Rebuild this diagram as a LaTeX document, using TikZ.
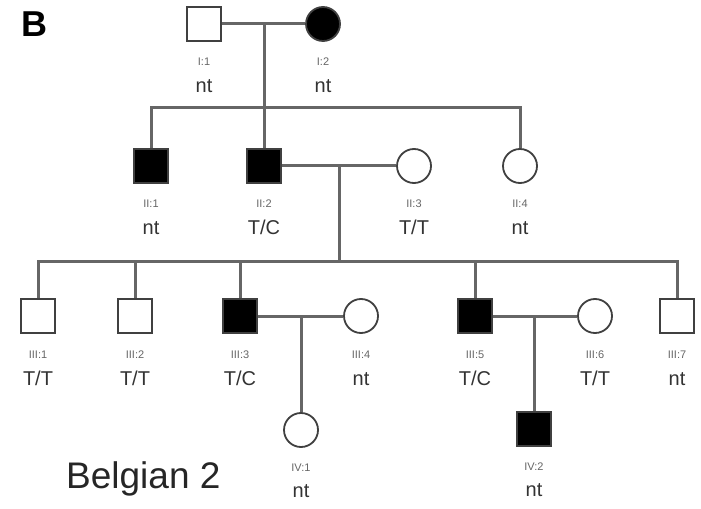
\documentclass[tikz,border=0pt]{standalone}
\usepackage{fontspec}
\setmainfont{Liberation Sans}
\begin{document}
\begin{tikzpicture}[x=1bp,y=-1bp,
  male/.style={rectangle, draw=black!75, line width=1.8bp, minimum size=34bp, inner sep=0pt, fill=white},
  female/.style={circle, draw=black!75, line width=1.8bp, minimum size=34bp, inner sep=0pt, fill=white},
  aff/.style={fill=black},
  link/.style={draw=black!60, line width=3bp},
  idlab/.style={anchor=base, inner sep=0pt, text=black!60, font=\fontsize{11bp}{13bp}\selectfont},
  gtlab/.style={anchor=base, inner sep=0pt, text=black!80, font=\fontsize{20bp}{24bp}\selectfont},
]
\useasboundingbox (0,0) rectangle (701,509);
\fill[white] (0,0) rectangle (701,509);

% Generation I
\node[male] (I1) at (204,24) {};
\node[female,aff] (I2) at (323,24) {};
% Generation II
\node[male,aff] (II1) at (151,166) {};
\node[male,aff] (II2) at (264,166) {};
\node[female] (II3) at (414,166) {};
\node[female] (II4) at (520,166) {};
% Generation III
\node[male] (III1) at (38,316) {};
\node[male] (III2) at (135,316) {};
\node[male,aff] (III3) at (240,316) {};
\node[female] (III4) at (361,316) {};
\node[male,aff] (III5) at (475,316) {};
\node[female] (III6) at (595,316) {};
\node[male] (III7) at (677,316) {};
% Generation IV
\node[female] (IV1) at (301,430) {};
\node[male,aff] (IV2) at (534,429) {};

% helper coordinates
\coordinate (m1) at (264,24);
\coordinate (s1) at (264,108);
\coordinate (m2) at (339,166);
\coordinate (s2) at (339,261);
\coordinate (m3) at (301,316);
\coordinate (m4) at (534,316);

% connectors
\draw[link] (I1) -- (I2);
\draw[link] (m1) -- (II2);
\draw[link] (II1) |- (s1) -| (II4);
\draw[link] (II2) -- (II3);
\draw[link] (m2) -- (s2);
\draw[link] (III1) |- (s2) -| (III7);
\draw[link] (III2 |- s2) -- (III2);
\draw[link] (III3 |- s2) -- (III3);
\draw[link] (III5 |- s2) -- (III5);
\draw[link] (III3) -- (III4);
\draw[link] (III5) -- (III6);
\draw[link] (m3) -- (IV1);
\draw[link] (m4) -- (IV2);

% labels
\node[idlab] (I1i) at (204,66) {I:1};
\node[gtlab] (I1g) at (204,93) {nt};
\node[idlab] (I2i) at (323,66) {I:2};
\node[gtlab] (I2g) at (323,93) {nt};

\node[idlab] (II1i) at (151,208) {II:1};
\node[gtlab] (II1g) at (151,235) {nt};
\node[idlab] (II2i) at (264,208) {II:2};
\node[gtlab] (II2g) at (264,235) {T/C};
\node[idlab] (II3i) at (414,208) {II:3};
\node[gtlab] (II3g) at (414,235) {T/T};
\node[idlab] (II4i) at (520,208) {II:4};
\node[gtlab] (II4g) at (520,235) {nt};

\node[idlab] (III1i) at (38,358) {III:1};
\node[gtlab] (III1g) at (38,385) {T/T};
\node[idlab] (III2i) at (135,358) {III:2};
\node[gtlab] (III2g) at (135,385) {T/T};
\node[idlab] (III3i) at (240,358) {III:3};
\node[gtlab] (III3g) at (240,385) {T/C};
\node[idlab] (III4i) at (361,358) {III:4};
\node[gtlab] (III4g) at (361,385) {nt};
\node[idlab] (III5i) at (475,358) {III:5};
\node[gtlab] (III5g) at (475,385) {T/C};
\node[idlab] (III6i) at (595,358) {III:6};
\node[gtlab] (III6g) at (595,385) {T/T};
\node[idlab] (III7i) at (677,358) {III:7};
\node[gtlab] (III7g) at (677,385) {nt};

\node[idlab] (IV1i) at (301,471) {IV:1};
\node[gtlab] (IV1g) at (301,497) {nt};
\node[idlab] (IV2i) at (534,470) {IV:2};
\node[gtlab] (IV2g) at (534,496) {nt};

\node[anchor=base west, inner sep=0pt, font=\fontsize{36bp}{40bp}\selectfont\bfseries] (panel) at (21,37) {B};
\node[anchor=base west, inner sep=0pt, text=black!85, font=\fontsize{37bp}{42bp}\selectfont] (title) at (66,488) {Belgian 2};
\end{tikzpicture}
\end{document}
